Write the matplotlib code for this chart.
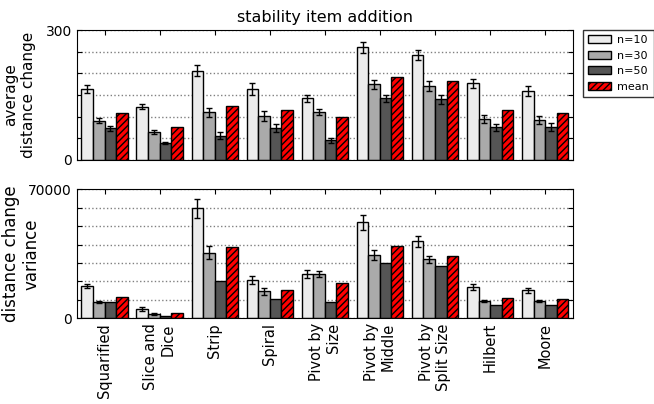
import numpy as np
import matplotlib
matplotlib.use("Agg")
import matplotlib.pyplot as plt

# Data
methods = ["Squarified", "Slice and\nDice", "Strip", "Spiral", "Pivot by\nSize",
           "Pivot by\nMiddle", "Pivot by\nSplit Size", "Hilbert", "Moore"]
series = ["n=10", "n=30", "n=50", "mean"]

avg_n10 = [164, 123, 206, 164, 142, 260, 243, 177, 159]
avg_n30 = [91, 64, 110, 102, 110, 175, 171, 95, 92]
avg_n50 = [73, 39, 56, 73, 45, 142, 140, 75, 77]
avg_mean = [109, 75, 125, 115, 99, 192, 183, 115, 109]
avg_err10 = [10, 6, 13, 13, 8, 12, 12, 10, 11]
avg_err30 = [5, 5, 10, 12, 7, 10, 11, 9, 9]
avg_err50 = [6, 3, 8, 9, 5, 9, 10, 8, 9]

var_n10 = [17500, 5100, 59700, 20800, 24000, 52100, 41800, 16800, 15200]
var_n30 = [9000, 2500, 35600, 14700, 24000, 34200, 32000, 9200, 9200]
var_n50 = [8700, 1300, 20400, 10700, 8700, 30200, 28400, 7100, 7400]
var_mean = [11800, 2700, 38700, 15400, 19000, 39100, 33600, 11000, 10500]
var_err10 = [1100, 900, 5000, 2000, 2000, 4000, 2900, 1600, 1200]
var_err30 = [500, 500, 3600, 1800, 1600, 2800, 2000, 600, 600]

colors = ["#ececec", "#aaaaaa", "#555555", "red"]

plt.rcParams["hatch.linewidth"] = 1.0

fig = plt.figure(figsize=(6.54, 4.04), dpi=100)
ax1 = fig.add_axes([0.1177, 0.604, 0.758, 0.3217])
ax2 = fig.add_axes([0.1177, 0.2121, 0.758, 0.3193])

x = np.arange(len(methods))
w = 0.21
offsets = [-1.5 * w, -0.5 * w, 0.5 * w, 1.5 * w]


def draw(ax, vals, errs):
    handles = []
    for i, (v, e) in enumerate(zip(vals, errs)):
        kw = dict(color=colors[i], edgecolor="black", linewidth=1)
        if i == 3:
            kw["hatch"] = "/////"
        b = ax.bar(x + offsets[i], v, w, label=series[i], **kw)
        if e is not None:
            ax.errorbar(x + offsets[i], v, yerr=e, fmt="none", ecolor="black",
                        elinewidth=1, capsize=2.5, capthick=1)
        handles.append(b)
    ax.set_xlim(-0.5, len(methods) - 0.5)
    ax.set_xticks(x)
    ax.tick_params(direction="in", top=True, right=True, labelsize=10)
    ax.yaxis.grid(True, linestyle=":", color="gray", linewidth=1)
    ax.set_axisbelow(True)
    return handles


handles = draw(ax1, [avg_n10, avg_n30, avg_n50, avg_mean],
               [avg_err10, avg_err30, avg_err50, None])
ax1.set_ylim(0, 300)
ax1.set_yticks(np.arange(0, 301, 50))
ax1.set_yticklabels(["0", "", "", "", "", "", "300"])
ax1.set_xticklabels([])
ax1.set_ylabel("average\ndistance change", fontsize=11)
ax1.yaxis.set_label_coords(-0.083, 0.5)
ax1.set_title("stability item addition", fontsize=11.5)

draw(ax2, [var_n10, var_n30, var_n50, var_mean],
     [var_err10, var_err30, None, None])
ax2.set_ylim(0, 70000)
ax2.set_yticks(np.arange(0, 70001, 10000))
ax2.set_yticklabels(["0"] + [""] * 6 + ["70000"])
ax2.set_xticklabels(methods, rotation=90, fontsize=10.5, multialignment="right")
ax2.set_ylabel("distance change\nvariance", fontsize=12)
ax2.yaxis.set_label_coords(-0.073, 0.5)

ax1.legend(handles=handles, loc="upper left", bbox_to_anchor=(1.02, 1.0),
           fontsize=8, fancybox=False, edgecolor="black", borderaxespad=0,
           handlelength=2.1, handletextpad=0.55, borderpad=0.45, labelspacing=0.5)

fig.savefig("out.png", dpi=100)
